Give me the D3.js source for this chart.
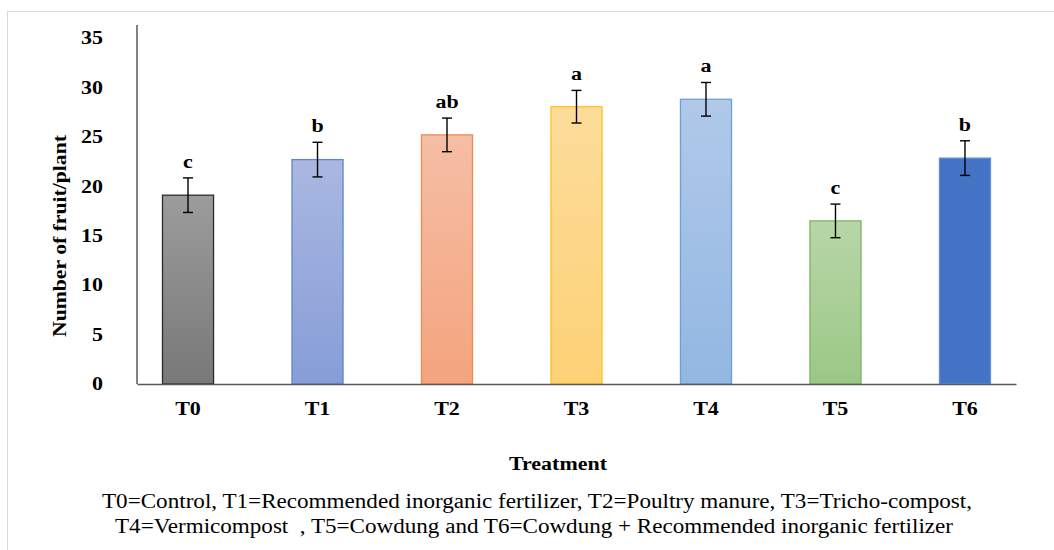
<!DOCTYPE html>
<html>
<head>
<meta charset="utf-8">
<script src="https://cdn.jsdelivr.net/npm/d3@7"></script>
</head>
<body style="margin:0; background:#fff">
<div id="plot"></div>
<script>
// treatments and values
const treatments = ["T0", "T1", "T2", "T3", "T4", "T5", "T6"];
const fruitMeans = [19.1, 22.7, 25.2, 28.05, 28.8, 16.5, 22.85];
const fruitErrors = [1.75, 1.75, 1.7, 1.65, 1.7, 1.7, 1.75];
const letters = ["c", "b", "ab", "a", "a", "c", "b"];
const yTicks = [0, 5, 10, 15, 20, 25, 30, 35];

// fill gradients (top, bottom) and outline per bar
const barColors = [
  { top: "#9c9c9c", bottom: "#787878", stroke: "#2b2b2b" },
  { top: "#aab8e1", bottom: "#869dd7", stroke: "#5f86cf" },
  { top: "#f5bea5", bottom: "#f4a47e", stroke: "#ee8c55" },
  { top: "#fddc9a", bottom: "#fdd277", stroke: "#ffc21a" },
  { top: "#b0c9e9", bottom: "#92b7e2", stroke: "#6ea0d8" },
  { top: "#b8d6a8", bottom: "#9bc886", stroke: "#7db464" },
  { top: "#4472c4", bottom: "#4472c4", stroke: "#6592d8" },
];

const serif = "'Liberation Serif', 'Times New Roman', serif";
const stretch = 1.22; // the original picture is a bit wider than tall
const svgWidth = 1054;
const svgHeight = 550;
const plot = { left: 137, right: 1016, top: 38, bottom: 384 };

const svg = d3
  .select("#plot")
  .append("svg")
  .attr("width", svgWidth)
  .attr("height", svgHeight)
  .style("font-family", serif);

// light frame around the whole chart
svg
  .append("rect")
  .attr("x", 7.5)
  .attr("y", 11.5)
  .attr("width", svgWidth)
  .attr("height", svgHeight)
  .attr("fill", "none")
  .attr("stroke", "#d9d9d9");

const xScale = d3
  .scaleBand()
  .domain(treatments)
  .range([plot.left, plot.right])
  .paddingInner(0.598)
  .paddingOuter(0.193);

const yScale = d3
  .scaleLinear()
  .domain([0, 35])
  .range([plot.bottom, plot.top]);

const defs = svg.append("defs");
barColors.forEach((c, i) => {
  const g = defs
    .append("linearGradient")
    .attr("id", "grad" + i)
    .attr("x1", 0)
    .attr("y1", 0)
    .attr("x2", 0)
    .attr("y2", 1);
  g.append("stop").attr("offset", "0%").attr("stop-color", c.top);
  g.append("stop").attr("offset", "100%").attr("stop-color", c.bottom);
});

// y axis tick labels only
const yAxis = svg
  .append("g")
  .attr("transform", "translate(" + plot.left + ",0)")
  .call(d3.axisLeft(yScale).tickValues(yTicks).tickSize(0).tickPadding(34));
yAxis.attr("font-family", serif);
yAxis.select(".domain").remove();
yAxis
  .selectAll("text")
  .classed("stretch", true)
  .style("font-family", serif)
  .style("font-size", "18px")
  .style("font-weight", "bold")
  .attr("fill", "#000");

// bars
svg
  .selectAll(".bar")
  .data(fruitMeans)
  .enter()
  .append("rect")
  .attr("class", "bar")
  .attr("x", (d, i) => xScale(treatments[i]) + 0.5)
  .attr("y", (d) => yScale(d))
  .attr("width", xScale.bandwidth() - 1)
  .attr("height", (d) => yScale(0) - yScale(d))
  .attr("fill", (d, i) => "url(#grad" + i + ")")
  .attr("stroke", (d, i) => barColors[i].stroke)
  .attr("stroke-width", 1.3);

// error bars
const errGroup = svg
  .selectAll(".err")
  .data(fruitMeans)
  .enter()
  .append("g")
  .attr("class", "err")
  .attr("stroke", "#000")
  .attr("stroke-width", 1.4);

errGroup
  .append("line")
  .attr("x1", (d, i) => xScale(treatments[i]) + xScale.bandwidth() / 2)
  .attr("x2", (d, i) => xScale(treatments[i]) + xScale.bandwidth() / 2)
  .attr("y1", (d, i) => yScale(d + fruitErrors[i]))
  .attr("y2", (d, i) => yScale(d - fruitErrors[i]));

[1, -1].forEach((sign) => {
  errGroup
    .append("line")
    .attr("x1", (d, i) => xScale(treatments[i]) + xScale.bandwidth() / 2 - 5)
    .attr("x2", (d, i) => xScale(treatments[i]) + xScale.bandwidth() / 2 + 5)
    .attr("y1", (d, i) => yScale(d + sign * fruitErrors[i]))
    .attr("y2", (d, i) => yScale(d + sign * fruitErrors[i]));
});

// significance letters
svg
  .selectAll(".letter")
  .data(letters)
  .enter()
  .append("text")
  .attr("class", "letter stretch")
  .attr("x", (d, i) => xScale(treatments[i]) + xScale.bandwidth() / 2)
  .attr("y", (d, i) => yScale(fruitMeans[i] + fruitErrors[i]) - 10)
  .attr("text-anchor", "middle")
  .style("font-family", serif)
  .style("font-size", "18px")
  .style("font-weight", "bold")
  .text((d) => d);

// axis lines
svg
  .append("line")
  .attr("x1", plot.left)
  .attr("x2", plot.left)
  .attr("y1", 25)
  .attr("y2", plot.bottom)
  .attr("stroke", "#595959")
  .attr("stroke-width", 1.5);

const xAxis = svg
  .append("g")
  .attr("transform", "translate(0," + plot.bottom + ")")
  .call(d3.axisBottom(xScale).tickSize(0).tickPadding(18));
xAxis.attr("font-family", serif);
xAxis.select(".domain").attr("stroke", "#595959").attr("stroke-width", 1.5);
xAxis
  .selectAll("text")
  .classed("stretch", true)
  .style("font-family", serif)
  .style("font-size", "18px")
  .style("font-weight", "bold")
  .attr("fill", "#000");

// axis titles
svg
  .append("text")
  .attr("transform", "translate(66,236) rotate(-90)")
  .attr("text-anchor", "middle")
  .attr("textLength", 202)
  .attr("lengthAdjust", "spacingAndGlyphs")
  .style("font-family", serif)
  .style("font-size", "19px")
  .style("font-weight", "bold")
  .text("Number of fruit/plant");

svg
  .append("text")
  .attr("class", "stretch")
  .attr("x", 558)
  .attr("y", 470)
  .attr("text-anchor", "middle")
  .style("font-family", serif)
  .style("font-size", "18px")
  .style("font-weight", "bold")
  .text("Treatment");

// caption
const captionLines = [
  "T0=Control, T1=Recommended inorganic fertilizer, T2=Poultry manure, T3=Tricho-compost,",
  "T4=Vermicompost\u00a0 , T5=Cowdung and T6=Cowdung + Recommended inorganic fertilizer",
];
const captionStart = [102, 115];
const captionWidth = [870, 838];
svg
  .selectAll(".caption")
  .data(captionLines)
  .enter()
  .append("text")
  .attr("class", "caption")
  .attr("x", (d, i) => captionStart[i])
  .attr("y", (d, i) => 508 + i * 25)
  .attr("textLength", (d, i) => captionWidth[i])
  .attr("lengthAdjust", "spacingAndGlyphs")
  .style("font-family", serif)
  .style("font-size", "20px")
  .text((d) => d);

// widen the short labels the same way the source image is widened
svg.selectAll("text.stretch").each(function () {
  const w = this.getComputedTextLength();
  d3.select(this)
    .attr("textLength", w * stretch)
    .attr("lengthAdjust", "spacingAndGlyphs");
});
</script>
</body>
</html>
